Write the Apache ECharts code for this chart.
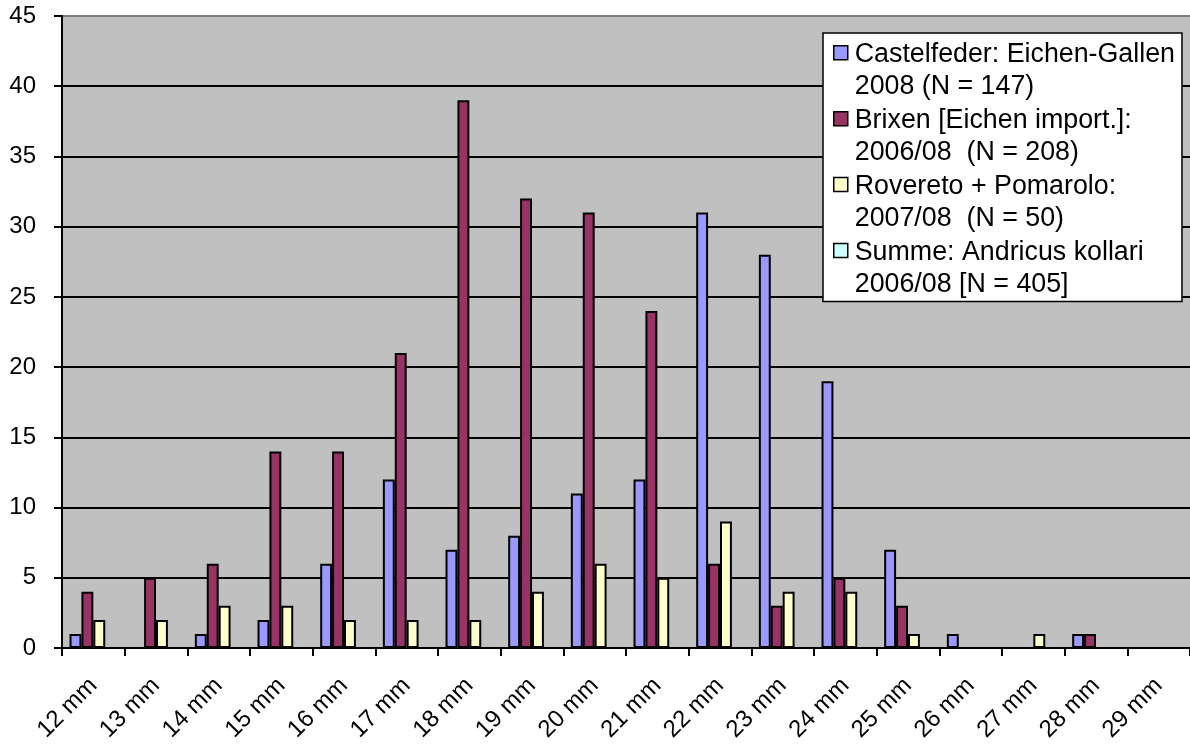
<!DOCTYPE html>
<html>
<head>
<meta charset="utf-8">
<script src="https://cdn.jsdelivr.net/npm/echarts@6/dist/echarts.min.js"></script>
<style>
  html, body { margin: 0; padding: 0; background: #ffffff; }
  #chart { width: 1190px; height: 750px; }
</style>
</head>
<body>
<div id="chart"></div>
<script>
// Gall diameter classes (mm)
const categories = ['12 mm', '13 mm', '14 mm', '15 mm', '16 mm', '17 mm', '18 mm', '19 mm', '20 mm',
                    '21 mm', '22 mm', '23 mm', '24 mm', '25 mm', '26 mm', '27 mm', '28 mm', '29 mm'];

// Counts per diameter class
const castelfeder = [1, 0, 1, 2, 6, 12, 7, 8, 11, 12, 31, 28, 19, 7, 1, 0, 1, 0];
const brixen      = [4, 5, 6, 14, 14, 21, 39, 32, 31, 24, 6, 3, 5, 3, 0, 0, 1, 0];
const rovereto    = [2, 2, 3, 3, 2, 2, 2, 4, 6, 5, 9, 4, 4, 1, 0, 1, 0, 0];
const summe       = [null, null, null, null, null, null, null, null, null,
                     null, null, null, null, null, null, null, null, null];

const seriesNames = [
  'Castelfeder: Eichen-Gallen\n2008 (N = 147)',
  'Brixen [Eichen import.]:\n2006/08  (N = 208)',
  'Rovereto + Pomarolo:\n2007/08  (N = 50)',
  'Summe: Andricus kollari\n2006/08 [N = 405]'
];
const seriesColors = ['#9999FF', '#993366', '#FFFFCC', '#CCFFFF'];
const seriesData = [castelfeder, brixen, rovereto, summe];

const yTicks = { min: 0, max: 45, interval: 5 };

const FONT = '"Liberation Sans", Arial, Helvetica, sans-serif';
const LINE_H = 32.2;

// one gridline per tick; the top one is the grey plot border
const splitColors = [];
for (let v = yTicks.min; v <= yTicks.max; v += yTicks.interval) {
  splitColors.push(v === yTicks.max ? '#808080' : '#000000');
}

const chart = echarts.init(document.getElementById('chart'), null, { renderer: 'canvas' });

chart.setOption({
  animation: false,
  backgroundColor: '#ffffff',
  grid: {
    left: 62,
    top: 16,
    width: 1134,
    height: 632,
    show: true,
    backgroundColor: '#C0C0C0',
    borderWidth: 0,
    containLabel: false
  },
  legend: {
    orient: 'vertical',
    left: 823,
    top: 33,
    padding: [5, 7, 0, 10],
    itemGap: 0,
    itemWidth: 14,
    itemHeight: LINE_H * 2,
    // square marker sitting on the first text line of each entry
    icon: 'path://M0,0 M0,7 L14,7 L14,21 L0,21 Z M14,64.4',
    itemStyle: { borderColor: '#000000', borderWidth: 1.5 },
    backgroundColor: '#ffffff',
    borderColor: '#000000',
    borderWidth: 1.5,
    borderRadius: 0,
    selectedMode: false,
    textStyle: {
      fontFamily: FONT,
      fontSize: 26.8,
      lineHeight: LINE_H,
      color: '#000000',
      padding: [0, 0, 0, 2]
    },
    data: seriesNames
  },
  xAxis: {
    type: 'category',
    data: categories,
    boundaryGap: true,
    axisLine: { show: true, lineStyle: { color: '#000000', width: 2 } },
    axisTick: { show: true, length: 8, inside: false, lineStyle: { color: '#000000', width: 2 } },
    axisLabel: {
      interval: 0,
      rotate: 45,
      margin: 34,
      padding: [42, 0, 0, 0],
      fontFamily: FONT,
      fontSize: 24,
      color: '#000000'
    },
    splitLine: { show: false }
  },
  yAxis: {
    type: 'value',
    min: yTicks.min,
    max: yTicks.max,
    interval: yTicks.interval,
    axisLine: { show: true, lineStyle: { color: '#000000', width: 2 } },
    axisTick: { show: true, length: 8, inside: false, lineStyle: { color: '#000000', width: 2 } },
    axisLabel: {
      margin: 26,
      fontFamily: FONT,
      fontSize: 24,
      color: '#000000'
    },
    splitLine: { show: true, lineStyle: { color: splitColors, width: 2 } }
  },
  series: seriesData.map((d, i) => ({
    name: seriesNames[i],
    type: 'bar',
    data: d,
    barGap: '0%',
    barCategoryGap: '24%',
    itemStyle: { color: seriesColors[i], borderColor: '#000000', borderWidth: 2 },
    emphasis: { disabled: true }
  }))
});
</script>
</body>
</html>
